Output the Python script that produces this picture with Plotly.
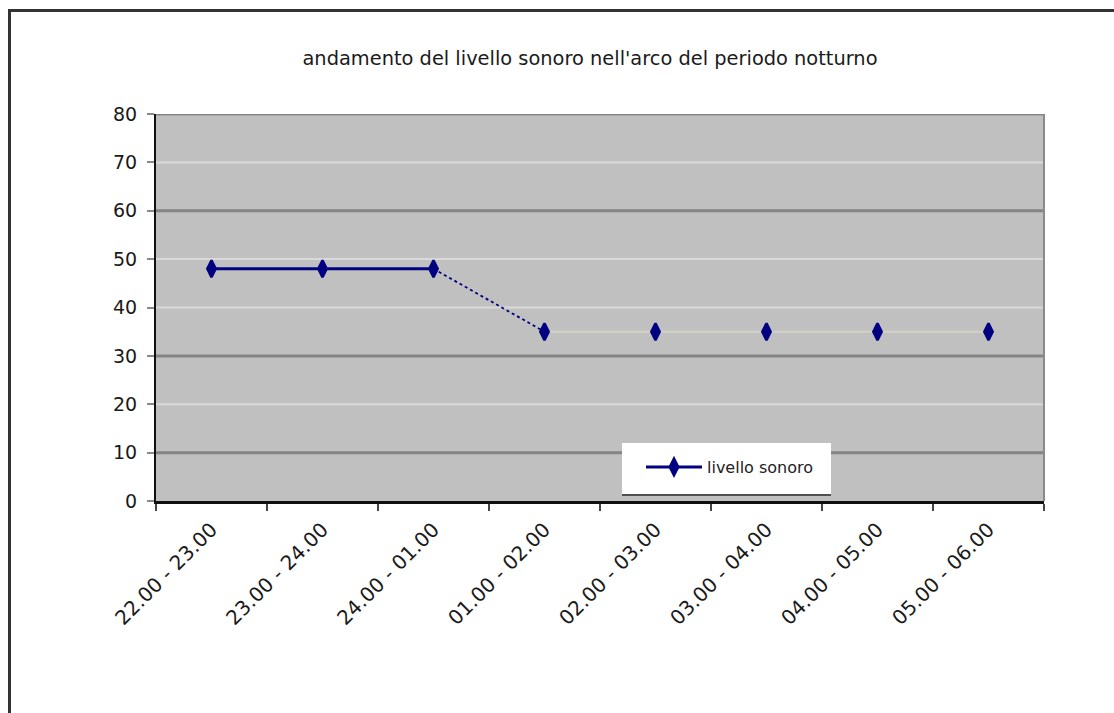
import plotly.graph_objects as go

# Night-time sound level, hourly bands
fasce_orarie = [
    "22.00 - 23.00", "23.00 - 24.00", "24.00 - 01.00", "01.00 - 02.00",
    "02.00 - 03.00", "03.00 - 04.00", "04.00 - 05.00", "05.00 - 06.00",
]
livello_sonoro = [48, 48, 48, 35, 35, 35, 35, 35]
tick_y = [0, 10, 20, 30, 40, 50, 60, 70, 80]
griglia_scura = [10, 30, 60, 80]
griglia_chiara = [20, 40, 50, 70]

W, H = 1114, 713
L, R, T, B = 156, 70, 114, 212
PW, PH = W - L - R, H - T - B

def px_x(px):
    return (px - L) / PW

def px_y(py):
    return (H - B - py) / PH

NAVY = "#000080"
FONT = "DejaVu Sans"
MARKER = dict(symbol="diamond-tall", size=12, color=NAVY,
              line=dict(color=NAVY, width=2.5))

fig = go.Figure()

# first three hours: solid line with markers (legend entry)
fig.add_trace(go.Scatter(
    x=fasce_orarie[:3], y=livello_sonoro[:3], mode="lines+markers",
    name="livello sonoro",
    line=dict(color=NAVY, width=3),
    marker=MARKER,
))
# drop between 24-01 and 01-02
fig.add_trace(go.Scatter(
    x=fasce_orarie[2:4], y=livello_sonoro[2:4], mode="lines",
    line=dict(color=NAVY, width=1.8, dash="dot"), showlegend=False,
))
# remaining hours: faint line
fig.add_trace(go.Scatter(
    x=fasce_orarie[3:], y=livello_sonoro[3:], mode="lines",
    line=dict(color="#d2d2c6", width=2), showlegend=False,
))
fig.add_trace(go.Scatter(
    x=fasce_orarie[3:], y=livello_sonoro[3:], mode="markers",
    marker=MARKER, showlegend=False,
))

shapes = []
for v in griglia_chiara:
    shapes.append(dict(type="line", xref="paper", yref="y", x0=0, x1=1, y0=v, y1=v,
                       line=dict(color="#d9d9d9", width=2), layer="below"))
for v in griglia_scura:
    shapes.append(dict(type="line", xref="paper", yref="y", x0=0, x1=1, y0=v, y1=v,
                       line=dict(color="#858585", width=3), layer="below"))
# right edge of plot area
shapes.append(dict(type="line", xref="paper", yref="paper", x0=1, x1=1, y0=0, y1=1,
                   line=dict(color="#8a8a8a", width=2)))
# legend box with its dark lower edge
shapes.append(dict(type="rect", xref="paper", yref="paper",
                   x0=px_x(622), x1=px_x(831), y0=px_y(495), y1=px_y(443),
                   fillcolor="white", line=dict(width=0), layer="above"))
shapes.append(dict(type="line", xref="paper", yref="paper",
                   x0=px_x(622), x1=px_x(831), y0=px_y(495), y1=px_y(495),
                   line=dict(color="#505050", width=2), layer="above"))
# chart frame
shapes.append(dict(type="line", xref="paper", yref="paper",
                   x0=px_x(9.5), x1=px_x(W + 5), y0=px_y(10.5), y1=px_y(10.5),
                   line=dict(color="#333333", width=3)))
shapes.append(dict(type="line", xref="paper", yref="paper",
                   x0=px_x(9.5), x1=px_x(9.5), y0=px_y(9), y1=px_y(H + 5),
                   line=dict(color="#333333", width=3)))

fig.update_layout(
    width=W, height=H,
    margin=dict(l=L, r=R, t=T, b=B),
    paper_bgcolor="white",
    plot_bgcolor="#c0c0c0",
    title=dict(
        text="andamento del livello sonoro nell'arco del periodo notturno",
        font=dict(family=FONT, size=19.4, color="#1a1a1a"),
        xref="container", yref="container",
        x=590 / W, y=1 - 58 / H, xanchor="center", yanchor="middle",
    ),
    showlegend=True,
    legend=dict(
        x=px_x(641), y=px_y(450), xanchor="left", yanchor="top",
        bgcolor="rgba(0,0,0,0)", borderwidth=0,
        font=dict(family=FONT, size=16, color="#222222"),
        itemwidth=56,
    ),
    shapes=shapes,
    xaxis=dict(
        type="category", range=[-0.5, len(fasce_orarie) - 0.5],
        tickson="boundaries", ticks="outside", ticklen=7, tickwidth=2, tickcolor="#444444",
        showgrid=False, showline=True, linecolor="#111111", linewidth=3,
        tickangle=-45, tickfont=dict(family=FONT, size=20, color="#1a1a1a"),
        ticklabelstandoff=6, zeroline=False,
    ),
    yaxis=dict(
        range=[0, 80], tickvals=tick_y, ticktext=[str(v) for v in tick_y],
        ticks="outside", ticklen=7, tickwidth=2, tickcolor="#8a8a8a",
        showgrid=False, showline=True, linecolor="#111111", linewidth=2,
        zeroline=False, ticklabelstandoff=6,
        tickfont=dict(family=FONT, size=19, color="#1a1a1a"),
    ),
)

fig.write_html("out.html")
